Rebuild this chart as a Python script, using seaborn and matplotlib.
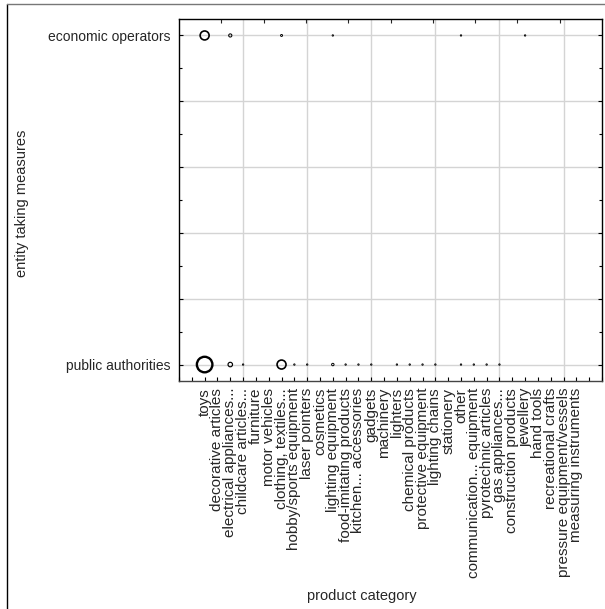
import numpy as np
import pandas as pd
import matplotlib
matplotlib.use("Agg")
import matplotlib.pyplot as plt
from matplotlib.lines import Line2D
from matplotlib.ticker import MultipleLocator
import seaborn as sns

# product categories along the x axis
categories = [
    "toys", "decorative articles", "electrical appliances...", "childcare articles...",
    "furniture", "motor vehicles", "clothing, textiles...", "hobby/sports equipment",
    "laser pointers", "cosmetics", "lighting equipment", "food-imitating products",
    "kitchen... accessories", "gadgets", "machinery", "lighters", "chemical products",
    "protective equipment", "lighting chains", "stationery", "other",
    "communication... equipment", "pyrotechnic articles", "gas appliances...",
    "construction products", "jewellery", "hand tools", "recreational crafts",
    "pressure equipment/vessels", "measuring instruments",
]

# entity taking measures (y axis, bottom to top)
entities = ["public authorities", "economic operators"]

# number of measures per category
public_authorities = [
    120, 0, 10, 1, 0, 0, 40, 1, 1, 0,
    3, 1, 1, 1, 0, 1, 1, 1, 1, 0,
    1, 1, 1, 1, 0, 0, 0, 0, 0, 0,
]
economic_operators = [
    40, 0, 5, 0, 0, 0, 2, 0, 0, 0,
    1, 0, 0, 0, 0, 0, 0, 0, 0, 0,
    1, 0, 0, 0, 0, 1, 0, 0, 0, 0,
]

rows = []
for yi, (entity, counts) in enumerate(zip(entities, [public_authorities, economic_operators])):
    for xi, (cat, n) in enumerate(zip(categories, counts)):
        if n > 0:
            rows.append({"x": xi, "y": yi, "category": cat, "entity": entity, "count": n})
df = pd.DataFrame(rows)

sns.set_style("white")
plt.rcParams["font.family"] = ["Liberation Sans", "DejaVu Sans"]

fig = plt.figure(figsize=(6.05, 6.09), dpi=100)
ax = fig.add_axes([179 / 605, 1 - 381 / 609, 423 / 605, 362 / 609])

max_count = max(max(public_authorities), max(economic_operators))
sns.scatterplot(
    data=df, x="x", y="y", size="count",
    sizes=(0, 125), size_norm=(0, max_count),
    legend=False, ax=ax, zorder=3,
)
pts = ax.collections[-1]
pts.set_facecolor("none")
pts.set_edgecolor("black")
pts.set_linewidths(0.5 + 0.11 * np.sqrt(df["count"].to_numpy()))

n = len(categories)
ax.set_xlim(-2, n + 1)
ax.set_ylim(-0.05, 1.05)

# x ticks: one per category, padded with blank slots at both ends
xt = np.arange(-2, n + 2)
ax.set_xticks(xt)
ax.set_xticklabels(["", ""] + categories + ["", ""], rotation=90, fontsize=11)
for x in range(3, n, 5):
    ax.axvline(x, color="#d4d4d4", lw=1.0, zorder=0)

# y ticks: labelled only at the two entities, gridlines every 0.2
yt = np.round(np.arange(0, 1.01, 0.2), 1)
ax.set_yticks(yt)
ax.set_yticklabels([entities[0], "", "", "", "", entities[1]], fontsize=10)
ax.yaxis.set_minor_locator(MultipleLocator(0.1))
ax.grid(axis="y", which="major", color="#d4d4d4", lw=1.0, zorder=0)
ax.set_axisbelow(True)

ax.tick_params(axis="both", which="both", direction="in", length=3, width=0.8,
               color="black", top=False, right=True, left=True, bottom=True, pad=6)
ax.tick_params(axis="x", pad=5)
ax.tick_params(axis="y", which="minor", length=2)

# ten even divisions marked on the top edge
top = ax.secondary_xaxis("top")
top.set_xticks(np.linspace(-2, n + 1, 11)[1:-1])
top.set_xticklabels([])
top.tick_params(direction="in", length=3, width=0.8)
top.spines["top"].set_visible(False)

for side in ["left", "right", "top", "bottom"]:
    ax.spines[side].set_visible(True)
    ax.spines[side].set_color("black")
    ax.spines[side].set_linewidth(1.0)
ax.spines["bottom"].set_color("#444444")

ax.set_xlabel("product category", fontsize=10.5)
ax.set_ylabel("entity taking measures", fontsize=10.5)
ax.yaxis.set_label_coords(-0.355, 0.49)
ax.xaxis.set_label_coords(0.433, -0.575)

# outer frame edges
fig.add_artist(Line2D([7 / 605, 7 / 605], [0, 1 - 4 / 609], color="black", lw=1.0,
                      transform=fig.transFigure))
fig.add_artist(Line2D([7 / 605, 1], [1 - 4 / 609, 1 - 4 / 609], color="#777777", lw=1.0,
                      transform=fig.transFigure))

fig.savefig("out.png", dpi=100)
